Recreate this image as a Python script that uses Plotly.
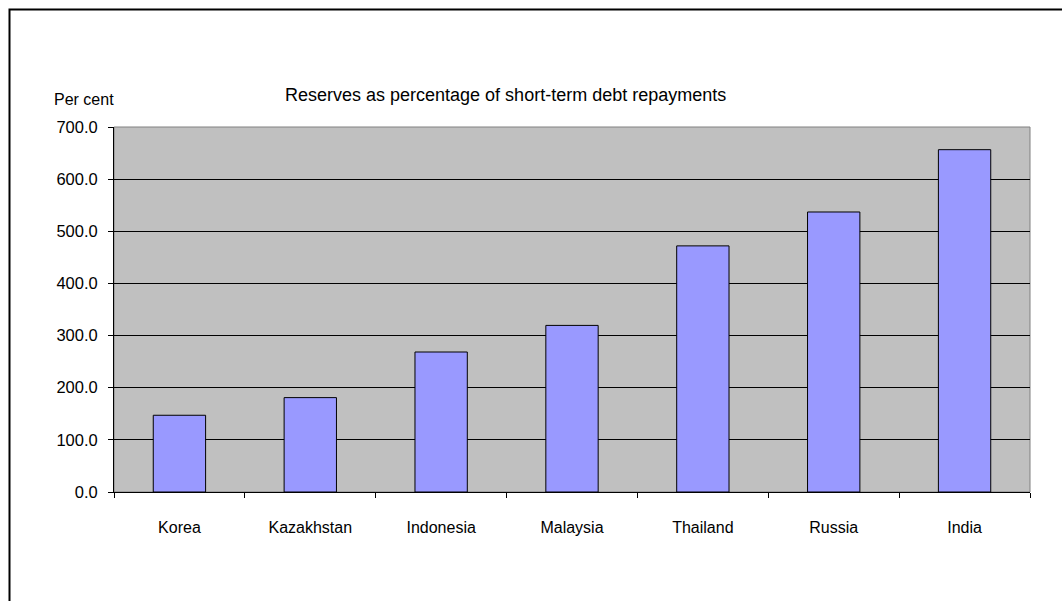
import plotly.graph_objects as go

# Datos
paises = ["Korea", "Kazakhstan", "Indonesia", "Malaysia", "Thailand", "Russia", "India"]
reservas = [147.2, 181.0, 268.5, 319.5, 472.0, 537.0, 656.5]
y_ticks = [0, 100, 200, 300, 400, 500, 600, 700]

COLOR_BARRA = "#9999FF"
COLOR_FONDO_PLOT = "#C0C0C0"
FUENTE = "Liberation Sans, Arial, sans-serif"

# Márgenes en píxeles para ubicar el área de trazado
W, H = 1062, 601
M_L, M_R, M_T, M_B = 114, 32, 127, 109
PW = W - M_L - M_R
PH = H - M_T - M_B


def px_x(x):
    return (x - M_L) / PW


def px_y(y):
    return (H - M_B - y) / PH


fig = go.Figure()

fig.add_trace(go.Bar(
    x=paises,
    y=reservas,
    marker=dict(color=COLOR_BARRA, line=dict(color="#000000", width=1)),
    showlegend=False,
    hoverinfo="x+y",
))

fig.update_layout(
    width=W,
    height=H,
    margin=dict(l=M_L, r=M_R, t=M_T, b=M_B),
    paper_bgcolor="white",
    plot_bgcolor=COLOR_FONDO_PLOT,
    font=dict(family=FUENTE, size=16, color="#000000"),
    bargap=0.6,
    xaxis=dict(
        tickson="boundaries",
        ticks="outside",
        ticklen=5,
        tickcolor="#000000",
        showgrid=False,
        showline=True,
        linecolor="#000000",
        linewidth=1,
        ticklabelstandoff=21,
        tickfont=dict(size=16),
    ),
    yaxis=dict(
        range=[0, 700],
        tickvals=y_ticks,
        tickformat=".1f",
        ticks="outside",
        ticklen=5,
        tickcolor="#000000",
        showgrid=True,
        gridcolor="#000000",
        gridwidth=1,
        showline=True,
        linecolor="#000000",
        linewidth=1,
        zeroline=False,
        ticklabelstandoff=7,
        tickfont=dict(size=16.5),
    ),
    annotations=[
        dict(
            text="Reserves as percentage of short-term debt repayments",
            xref="paper", yref="paper",
            x=px_x(505), y=px_y(95),
            xanchor="center", yanchor="middle",
            showarrow=False,
            font=dict(size=18),
        ),
        dict(
            text="Per cent",
            xref="paper", yref="paper",
            x=px_x(52), y=px_y(100),
            xanchor="left", yanchor="middle",
            showarrow=False,
            font=dict(size=16),
        ),
    ],
    shapes=[
        # borde gris del área de trazado (arriba y derecha)
        dict(type="rect", xref="paper", yref="paper",
             x0=0, x1=1, y0=0, y1=1,
             line=dict(color="#808080", width=1), layer="below"),
        # marco exterior del gráfico
        dict(type="rect", xref="paper", yref="paper",
             x0=px_x(9.5), x1=px_x(1080), y0=px_y(9.5), y1=px_y(620),
             line=dict(color="#000000", width=2), fillcolor="rgba(0,0,0,0)"),
    ],
)

# quitar el margen del body para que la figura quede en (0, 0)
fig.write_html(
    "out.html",
    config={"displayModeBar": False},
    post_script="document.body.style.margin='0';",
)
